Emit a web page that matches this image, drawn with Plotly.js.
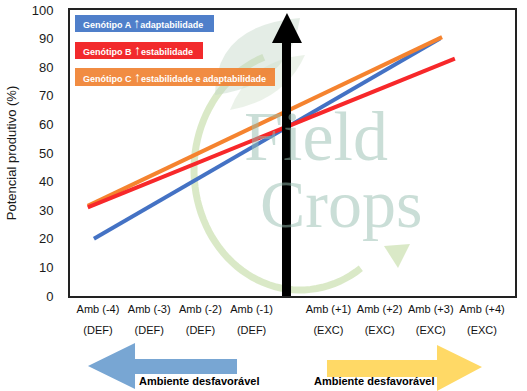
<!DOCTYPE html>
<html>
<head>
<meta charset="utf-8">
<script src="https://cdn.plot.ly/plotly-3.0.1.min.js"></script>
<style>html,body{margin:0;padding:0;background:#fff}#chart{width:527px;height:391px}</style>
</head>
<body>
<div id="chart"></div>
<script>
// ---- data ----
const envLabels = ['Amb (-4)', 'Amb (-3)', 'Amb (-2)', 'Amb (-1)', 'Amb (+1)', 'Amb (+2)', 'Amb (+3)', 'Amb (+4)'];
const envClass = ['(DEF)', '(DEF)', '(DEF)', '(DEF)', '(EXC)', '(EXC)', '(EXC)', '(EXC)'];
const envPos = [1, 2, 3, 4, 5.5, 6.5, 7.5, 8.5];
const genotypeNames = ['Genótipo A', 'Genótipo B', 'Genótipo C'];
const genotypeTraits = ['adaptabilidade', 'estabilidade', 'estabilidade e adaptabilidade'];
const genoA_x = [0.92, 7.68];
const genoA_y = [20, 90];
const genoB_x = [0.80, 7.97];
const genoB_y = [31, 83];
const genoC_x = [0.80, 7.72];
const genoC_y = [31.5, 90.5];
const yTicks = [0, 10, 20, 30, 40, 50, 60, 70, 80, 90, 100];

// ---- layout geometry (pixels of the 527x391 figure) ----
const W = 527, H = 391, ML = 70, MR = 12, MT = 10, MB = 95;
const PW = W - ML - MR, PH = H - MT - MB;
const X = px => (px - ML) / PW;
const Y = py => (H - MB - py) / PH;
const P = pts => pts.map((p, i) => (i ? 'L' : 'M') + X(p[0]).toFixed(4) + ',' + Y(p[1]).toFixed(4)).join(' ') + ' Z';
const arcPath = (cx, cy, rx, ry, a0, a1, n) => {
  let s = '';
  for (let i = 0; i <= n; i++) {
    const a = (a0 + (a1 - a0) * i / n) * Math.PI / 180;
    const x = cx + rx * Math.cos(a), y = cy + ry * Math.sin(a);
    s += (i ? 'L' : 'M') + X(x).toFixed(4) + ',' + Y(y).toFixed(4) + ' ';
  }
  return s;
};

const colA = '#4472c4', colB = '#f7282a', colC = '#f5832f';

const traces = [
  {x: genoA_x, y: genoA_y, mode: 'lines', line: {color: colA, width: 4}, name: genotypeNames[0], hoverinfo: 'skip'},
  {x: genoC_x, y: genoC_y, mode: 'lines', line: {color: colC, width: 4}, name: genotypeNames[2], hoverinfo: 'skip'},
  {x: genoB_x, y: genoB_y, mode: 'lines', line: {color: colB, width: 4}, name: genotypeNames[1], hoverinfo: 'skip'},
  {x: [null], y: [null], xaxis: 'x2', mode: 'markers', hoverinfo: 'skip', showlegend: false}
];

const range = [1 - (98 - ML) / 51.2, 8.5 + (W - MR - 482) / 51.2];

const shapes = [
  // watermark circle arc
  {type: 'path', xref: 'paper', yref: 'paper', layer: 'below',
   path: arcPath(300, 170, 106, 120, 55, 250, 60), line: {color: 'rgba(205,225,180,0.75)', width: 7}},
  // watermark arrowhead of the arc
  {type: 'path', xref: 'paper', yref: 'paper', layer: 'below',
   path: P([[384, 246], [410, 244], [398, 268]]), fillcolor: 'rgba(205,225,180,0.75)', line: {width: 0}},
  // watermark leaf
  {type: 'path', xref: 'paper', yref: 'paper', layer: 'below',
   path: 'M' + X(215) + ',' + Y(95) + ' Q' + X(215) + ',' + Y(25) + ' ' + X(300) + ',' + Y(18) +
         ' Q' + X(290) + ',' + Y(85) + ' ' + X(215) + ',' + Y(95) + ' Z',
   fillcolor: 'rgba(195,215,200,0.45)', line: {width: 0}},
  {type: 'path', xref: 'paper', yref: 'paper', layer: 'below',
   path: 'M' + X(230) + ',' + Y(110) + ' Q' + X(250) + ',' + Y(60) + ' ' + X(305) + ',' + Y(55) +
         ' Q' + X(285) + ',' + Y(100) + ' ' + X(230) + ',' + Y(110) + ' Z',
   fillcolor: 'rgba(205,222,200,0.4)', line: {width: 0}},
  // legend boxes
  {type: 'rect', xref: 'paper', yref: 'paper', x0: X(75), x1: X(214), y0: Y(15), y1: Y(32), fillcolor: '#4f7fca', line: {width: 0}},
  {type: 'rect', xref: 'paper', yref: 'paper', x0: X(75), x1: X(203), y0: Y(42), y1: Y(59), fillcolor: '#f22a2c', line: {width: 0}},
  {type: 'rect', xref: 'paper', yref: 'paper', x0: X(75), x1: X(275), y0: Y(68), y1: Y(86), fillcolor: 'rgba(240,130,50,0.92)', line: {width: 0}},
  // black vertical arrow
  {type: 'path', xref: 'paper', yref: 'paper', layer: 'above',
   path: P([[282, 296], [291, 296], [291, 43], [302, 43], [287, 13], [272, 43], [282, 43]]),
   fillcolor: '#000', line: {width: 0}},
  // blue arrow (left)
  {type: 'path', xref: 'paper', yref: 'paper',
   path: P([[237, 359], [135, 359], [135, 343], [88, 366], [135, 389], [135, 374], [237, 374]]),
   fillcolor: '#78a6d3', line: {width: 0}},
  // yellow arrow (right)
  {type: 'path', xref: 'paper', yref: 'paper',
   path: P([[327, 360], [437, 360], [437, 345], [482, 367], [437, 391], [437, 377], [327, 377]]),
   fillcolor: '#ffd966', line: {width: 0}}
];

const up = '<span style="font-size:14px">\u2191</span>';
const legFont = {family: 'Liberation Sans, Arial, sans-serif', size: 9, color: '#fff'};
const botFont = {family: 'Liberation Sans, Arial, sans-serif', size: 11, color: '#000'};
const annotations = [
  {xref: 'paper', yref: 'paper', x: X(316), y: Y(136), xanchor: 'center', yanchor: 'middle', text: 'Field', showarrow: false,
   font: {family: 'Liberation Serif, Times New Roman, serif', size: 70, color: 'rgba(150,190,175,0.5)'}},
  {xref: 'paper', yref: 'paper', x: X(341), y: Y(204), xanchor: 'center', yanchor: 'middle', text: 'Crops', showarrow: false,
   font: {family: 'Liberation Serif, Times New Roman, serif', size: 68, color: 'rgba(150,190,175,0.5)'}},
  {xref: 'paper', yref: 'paper', x: X(81), y: Y(23.5), xanchor: 'left', yanchor: 'middle', showarrow: false,
   text: '<b>' + genotypeNames[0] + ' ' + up + genotypeTraits[0] + '</b>', font: legFont},
  {xref: 'paper', yref: 'paper', x: X(81), y: Y(50.5), xanchor: 'left', yanchor: 'middle', showarrow: false,
   text: '<b>' + genotypeNames[1] + ' ' + up + genotypeTraits[1] + '</b>', font: legFont},
  {xref: 'paper', yref: 'paper', x: X(81), y: Y(77), xanchor: 'left', yanchor: 'middle', showarrow: false,
   text: '<b>' + genotypeNames[2] + ' ' + up + genotypeTraits[2] + '</b>', font: legFont},
  {xref: 'paper', yref: 'paper', x: X(199), y: Y(381), xanchor: 'center', yanchor: 'middle', showarrow: false,
   text: '<b>Ambiente desfavorável</b>', font: botFont},
  {xref: 'paper', yref: 'paper', x: X(374), y: Y(381), xanchor: 'center', yanchor: 'middle', showarrow: false,
   text: '<b>Ambiente desfavorável</b>', font: botFont}
];

const layout = {
  width: W, height: H,
  margin: {l: ML, r: MR, t: MT, b: MB},
  paper_bgcolor: '#fff', plot_bgcolor: '#fff',
  showlegend: false,
  font: {family: 'Liberation Sans, Arial, sans-serif', color: '#1a1a1a'},
  xaxis: {range: range, tickvals: envPos, ticktext: envLabels, ticks: '', showgrid: false, zeroline: false,
          showline: true, mirror: true, linecolor: '#222', linewidth: 2, tickfont: {size: 11, color: '#111'},
          ticklabelstandoff: 2, fixedrange: true},
  xaxis2: {range: range, overlaying: 'x', side: 'bottom', anchor: 'y', tickvals: envPos, ticktext: envClass,
           ticks: '', showgrid: false, zeroline: false, showline: false, tickfont: {size: 11, color: '#111'},
           ticklabelstandoff: 26, fixedrange: true},
  yaxis: {range: [0, 100], tickvals: yTicks, ticks: '', showgrid: false, zeroline: false,
          showline: true, mirror: true, linecolor: '#222', linewidth: 2, tickfont: {size: 13, color: '#1a1a1a'},
          ticklabelstandoff: 12,
          title: {text: 'Potencial produtivo (%)', font: {size: 13, color: '#1a1a1a'}, standoff: 12}, fixedrange: true},
  shapes: shapes,
  annotations: annotations
};

Plotly.newPlot('chart', traces, layout, {staticPlot: true, displayModeBar: false});
</script>
</body>
</html>
